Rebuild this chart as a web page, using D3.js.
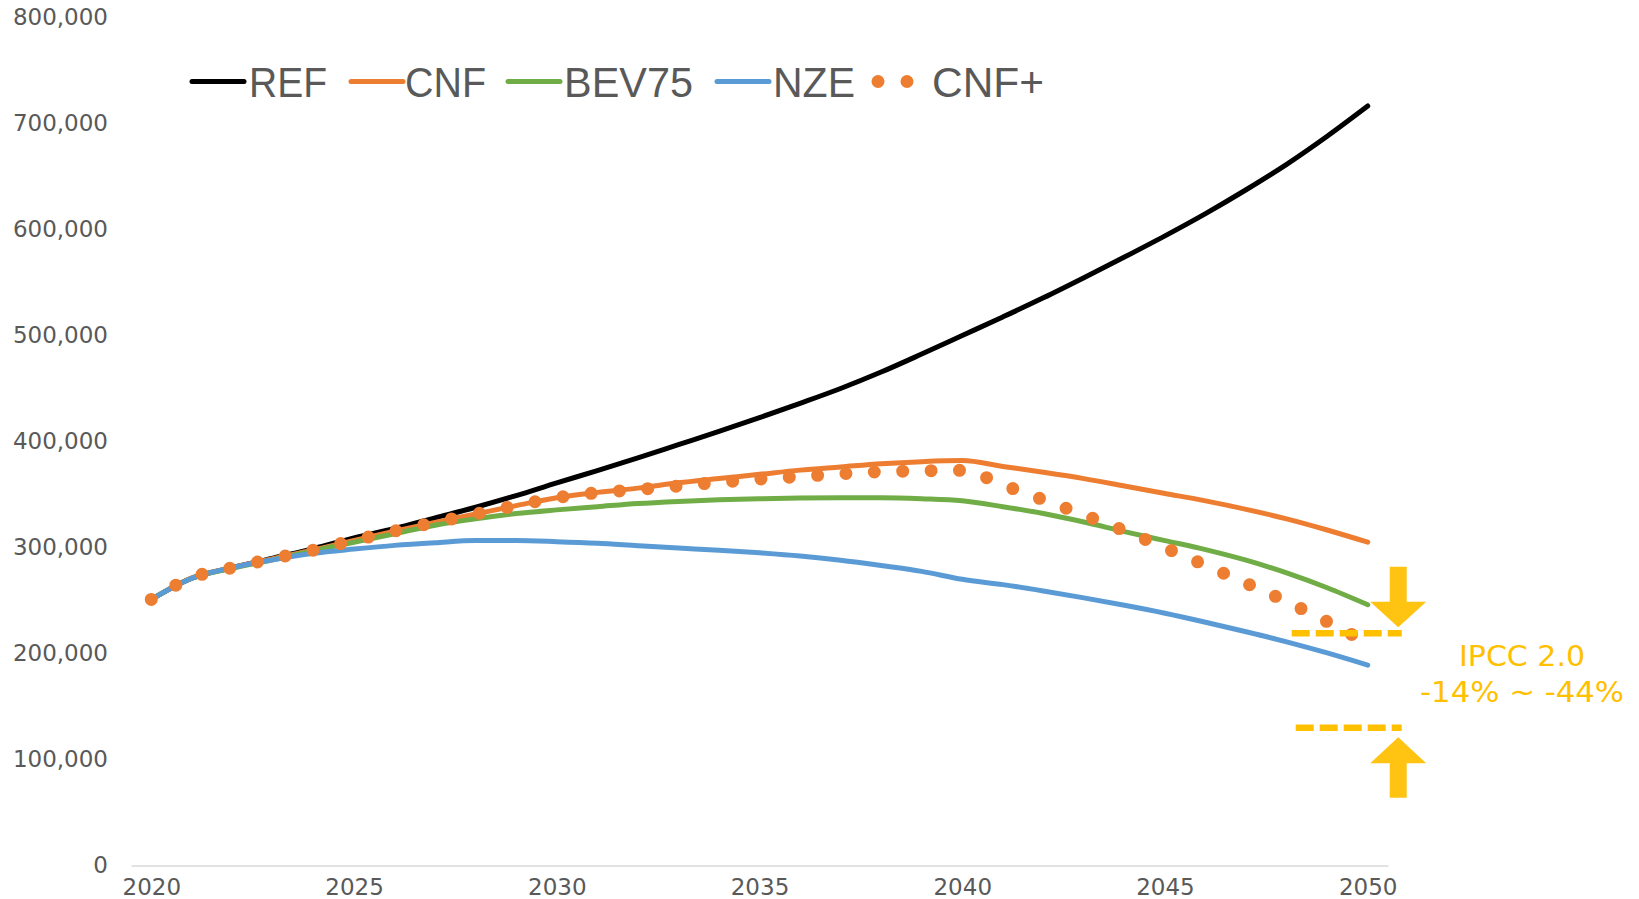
<!DOCTYPE html>
<html>
<head>
<meta charset="utf-8">
<script src="https://cdn.jsdelivr.net/npm/d3@7"></script>
<style>
  html, body { margin: 0; padding: 0; background: #fff; }
  svg { display: block; }
</style>
</head>
<body>
<svg id="chart" width="1639" height="899"></svg>
<script>
// Years on the category axis
const years = [2020, 2021, 2022, 2023, 2024, 2025, 2026, 2027, 2028, 2029, 2030,
  2031, 2032, 2033, 2034, 2035, 2036, 2037, 2038, 2039, 2040,
  2041, 2042, 2043, 2044, 2045, 2046, 2047, 2048, 2049, 2050];
const xTickLabels = [2020, 2025, 2030, 2035, 2040, 2045, 2050];
const yTickValues = [0, 100000, 200000, 300000, 400000, 500000, 600000, 700000, 800000];

// Scenario series (one value per year)
const REF = [251000, 271000, 281000, 290000, 299000, 309000, 318000, 328000, 338000, 349000, 361000,
  372500, 384500, 397000, 409500, 422500, 436000, 450000, 465500, 482500, 500000,
  517500, 535500, 554500, 574000, 594000, 615000, 637500, 661500, 688000, 716500];
const CNF = [251000, 271500, 281000, 289500, 297600, 306700, 315500, 323700, 331600, 339500, 347000,
  352000, 356000, 361000, 365000, 369000, 373000, 376000, 379000, 381000, 382000,
  376500, 371000, 365000, 358000, 351000, 344000, 336000, 327000, 316500, 305000];
const BEV75 = [251000, 271000, 280500, 288500, 297000, 305000, 313000, 321000, 327000, 332000, 335500,
  338500, 341500, 343500, 345000, 346000, 346700, 347000, 347000, 346000, 344000,
  338500, 332000, 324000, 315000, 306500, 298000, 288000, 276000, 262000, 246000];
const NZE = [251000, 271000, 281000, 288500, 294500, 298500, 302000, 304500, 306500, 306500, 305500,
  304000, 301700, 299500, 297500, 295000, 292000, 288000, 283000, 277500, 270000,
  265000, 259000, 252500, 245500, 238000, 229500, 220500, 211000, 200500, 189000];
const CNFplus = [251000, 271500, 281000, 289500, 297600, 306700, 315500, 323700, 331600, 339500, 347000,
  351700, 354700, 358000, 361500, 364500, 367000, 369500, 371500, 372300, 372800,
  359000, 345000, 330700, 315800, 299700, 283200, 266300, 249000, 230000, 210000];

// IPCC 2.0 range band for 2050 (upper and lower marker levels)
const ipccLevels = [219000, 130000];
const ipccLabel = ["IPCC 2.0", "-14% ~ -44%"];

const seriesList = [
  { name: "REF", values: REF, color: "#000000", dotted: false },
  { name: "CNF", values: CNF, color: "#ED7D31", dotted: false },
  { name: "BEV75", values: BEV75, color: "#70AD47", dotted: false },
  { name: "NZE", values: NZE, color: "#5B9BD5", dotted: false },
  { name: "CNF+", values: CNFplus, color: "#ED7D31", dotted: true }
];

const svg = d3.select("#chart");
const axisColor = "#595959";
const gold = "#FFC000";

const x = d3.scalePoint().domain(years).range([131, 1388]).padding(0.5);
const y = d3.scaleLinear().domain([0, 800000]).range([865.5, 17.5]);

// Y axis labels
const yAxis = svg.append("g")
  .attr("transform", "translate(131,0)")
  .call(d3.axisLeft(y).tickValues(yTickValues).tickSize(0).tickPadding(23).tickFormat(d3.format(",")));
yAxis.select(".domain").remove();
yAxis.selectAll("text")
  .attr("fill", axisColor)
  .style("font-family", "'DejaVu Sans', Verdana, sans-serif")
  .style("font-size", "23px");

// X axis
const xAxis = svg.append("g")
  .attr("transform", `translate(0,${y(0)})`)
  .call(d3.axisBottom(x).tickValues(xTickLabels).tickSize(0).tickPadding(13.5));
xAxis.select(".domain").attr("stroke", "#d9d9d9").attr("stroke-width", 1.5);
xAxis.selectAll("text")
  .attr("fill", axisColor)
  .style("font-family", "'DejaVu Sans', Verdana, sans-serif")
  .style("font-size", "23px");

// Series lines
const line = d3.line()
  .x((d, i) => x(years[i]))
  .y(d => y(d))
  .curve(d3.curveMonotoneX);

const lines = svg.append("g").attr("fill", "none");
seriesList.forEach(s => {
  const p = lines.append("path")
    .datum(s.values)
    .attr("d", line)
    .attr("stroke", s.color)
    .attr("stroke-linejoin", "round");
  if (s.dotted) {
    p.attr("stroke-width", 13)
      .attr("stroke-linecap", "round")
      .attr("stroke-dasharray", "0 28.4");
  } else {
    p.attr("stroke-width", 5)
      .attr("stroke-linecap", "round");
  }
});

// Legend
const legendItems = [
  { s: seriesList[0], lx: 192, tx: 249, tw: 78 },
  { s: seriesList[1], lx: 351, tx: 405, tw: 81 },
  { s: seriesList[2], lx: 508, tx: 564, tw: 129 },
  { s: seriesList[3], lx: 717, tx: 773, tw: 82 },
  { s: seriesList[4], lx: 878, tx: 932, tw: 112 }
];
const legend = svg.append("g");
const legendY = 81.5;
legendItems.forEach(it => {
  if (it.s.dotted) {
    legend.selectAll(null)
      .data([it.lx, it.lx + 29])
      .join("circle")
      .attr("cx", d => d).attr("cy", legendY).attr("r", 6.5)
      .attr("fill", it.s.color);
  } else {
    legend.append("line")
      .attr("x1", it.lx).attr("x2", it.lx + 52)
      .attr("y1", legendY).attr("y2", legendY)
      .attr("stroke", it.s.color).attr("stroke-width", 5)
      .attr("stroke-linecap", "round");
  }
  legend.append("text")
    .attr("x", it.tx).attr("y", 97)
    .attr("fill", axisColor)
    .attr("textLength", it.tw)
    .attr("lengthAdjust", "spacingAndGlyphs")
    .style("font-family", "'Liberation Sans', Arial, sans-serif")
    .style("font-size", "43px")
    .text(it.s.name);
});

// IPCC 2.0 range annotation
const ann = svg.append("g");
const x50 = x(2050);
const arrowX = x50 + 30.5;
ipccLevels.forEach((v, i) => {
  ann.append("line")
    .attr("x1", x50 - (i === 0 ? 76 : 72)).attr("x2", x50 + 34)
    .attr("y1", y(v)).attr("y2", y(v))
    .attr("stroke", gold).attr("stroke-width", 6.5)
    .attr("stroke-dasharray", "18 6");
});
// Down arrow above the upper level
const topTip = y(ipccLevels[0]) - 6;
ann.append("path")
  .attr("d", `M${arrowX - 8.5},${topTip - 60.5} L${arrowX + 8.5},${topTip - 60.5} L${arrowX + 8.5},${topTip - 25.5}
    L${arrowX + 28},${topTip - 25.5} L${arrowX},${topTip} L${arrowX - 28},${topTip - 25.5}
    L${arrowX - 8.5},${topTip - 25.5} Z`)
  .attr("fill", "#FFC312");
// Up arrow below the lower level
const botTip = y(ipccLevels[1]) + 9.5;
ann.append("path")
  .attr("d", `M${arrowX - 8.5},${botTip + 60.5} L${arrowX + 8.5},${botTip + 60.5} L${arrowX + 8.5},${botTip + 26}
    L${arrowX + 28},${botTip + 26} L${arrowX},${botTip} L${arrowX - 28},${botTip + 26}
    L${arrowX - 8.5},${botTip + 26} Z`)
  .attr("fill", "#FFC312");

ann.append("text")
  .attr("x", 1522).attr("y", 666)
  .attr("text-anchor", "middle")
  .attr("fill", gold)
  .attr("textLength", 126).attr("lengthAdjust", "spacingAndGlyphs")
  .style("font-family", "'DejaVu Sans', Verdana, sans-serif")
  .style("font-size", "28px")
  .text(ipccLabel[0]);
ann.append("text")
  .attr("x", 1522).attr("y", 702)
  .attr("text-anchor", "middle")
  .attr("fill", gold)
  .attr("textLength", 204).attr("lengthAdjust", "spacingAndGlyphs")
  .style("font-family", "'DejaVu Sans', Verdana, sans-serif")
  .style("font-size", "28px")
  .text(ipccLabel[1]);
</script>
</body>
</html>
